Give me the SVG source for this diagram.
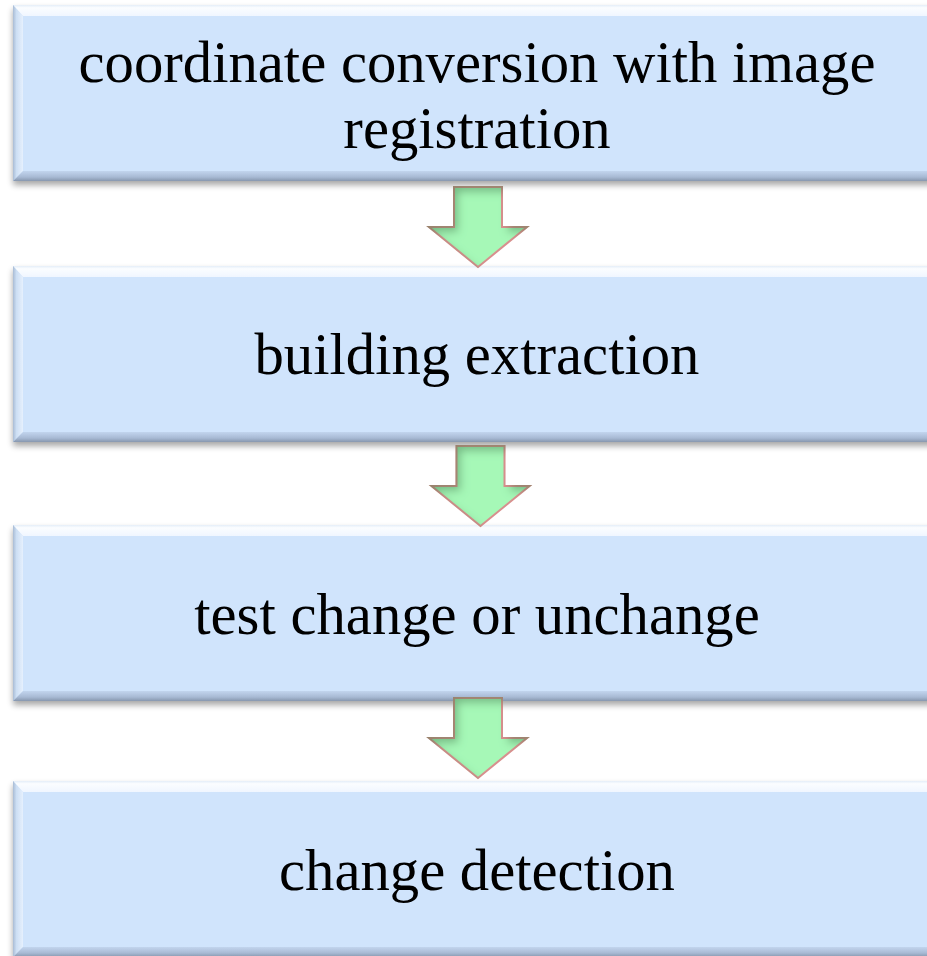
<svg xmlns="http://www.w3.org/2000/svg" width="927" height="956" viewBox="0 0 927 956">
  <defs>
    <style>
      .label { font-family: "Liberation Serif", "Times New Roman", serif; font-size: 58.7px; fill: #000; text-anchor: middle; }
      .face { fill: #d0e4fc; }
      .btop { fill: url(#gTop); }
      .bleft { fill: url(#gLeft); }
      .bbot { fill: url(#gBot); }
      .bright { fill: url(#gRight); }
      .arrow { fill: #a6f8b7; stroke: #d9908f; stroke-width: 2; stroke-linejoin: miter; }
    </style>
    <linearGradient id="gTop" x1="0" y1="0" x2="0" y2="1">
      <stop offset="0" stop-color="#e4eef8"/>
      <stop offset="0.25" stop-color="#fbfdff"/>
      <stop offset="1" stop-color="#f0f6ff"/>
    </linearGradient>
    <linearGradient id="gLeft" x1="0" y1="0" x2="1" y2="0">
      <stop offset="0" stop-color="#a9bcd5"/>
      <stop offset="0.35" stop-color="#cddff4"/>
      <stop offset="1" stop-color="#e6f0fd"/>
    </linearGradient>
    <linearGradient id="gBot" x1="0" y1="0" x2="0" y2="1">
      <stop offset="0" stop-color="#c2d5ee"/>
      <stop offset="0.6" stop-color="#a8bad4"/>
      <stop offset="1" stop-color="#8797ae"/>
    </linearGradient>
    <linearGradient id="gRight" x1="0" y1="0" x2="1" y2="0">
      <stop offset="0" stop-color="#bfd2ea"/>
      <stop offset="1" stop-color="#a0b3cc"/>
    </linearGradient>
    <filter id="shadow" x="-5%" y="-10%" width="110%" height="130%">
      <feGaussianBlur in="SourceAlpha" stdDeviation="3"/>
      <feOffset dx="0" dy="4" result="b"/>
      <feComponentTransfer in="b" result="s"><feFuncA type="linear" slope="0.35"/></feComponentTransfer>
      <feMerge><feMergeNode in="s"/><feMergeNode in="SourceGraphic"/></feMerge>
    </filter>
    <filter id="inner" x="-20%" y="-20%" width="140%" height="140%" filterUnits="objectBoundingBox">
      <feFlood flood-color="#3f7a4c" flood-opacity="0.6" result="col"/>
      <feComposite in="col" in2="SourceAlpha" operator="out" result="outside"/>
      <feGaussianBlur in="outside" stdDeviation="4"/>
      <feOffset dx="5" dy="6" result="off"/>
      <feComposite in="off" in2="SourceAlpha" operator="in" result="ish"/>
      <feMerge><feMergeNode in="SourceGraphic"/><feMergeNode in="ish"/></feMerge>
    </filter>
    <g id="box">
      <rect class="face" x="0" y="0" width="927" height="176"/>
      <polygon class="btop" points="0,0 927,0 917,11 10,11"/>
      <polygon class="bleft" points="0,0 10,11 10,166 0,176"/>
      <polygon class="bbot" points="0,176 10,166 917,166 927,176"/>
      <polygon class="bright" points="927,0 927,176 917,166 917,11"/>
    </g>
  </defs>

  <g id="node1">
    <use href="#box" x="13" y="5" filter="url(#shadow)"/>
    <text class="label" x="477" y="82">coordinate conversion with image</text>
    <text class="label" x="477" y="148">registration</text>
  </g>
  <g id="node2">
    <use href="#box" x="13" y="266" filter="url(#shadow)"/>
    <text class="label" x="477" y="374">building extraction</text>
  </g>
  <g id="node3">
    <use href="#box" x="13" y="525" filter="url(#shadow)"/>
    <text class="label" x="477" y="634">test change or unchange</text>
  </g>
  <g id="node4">
    <use href="#box" x="13" y="781" filter="url(#shadow)"/>
    <text class="label" x="477" y="890">change detection</text>
  </g>

  <g id="connectors">
    <polygon class="arrow" filter="url(#inner)" points="454,187 502,187 502,227 527,227 478,267 429,227 454,227"/>
    <polygon class="arrow" filter="url(#inner)" points="456.5,446 504.5,446 504.5,486 529.5,486 480.5,526 431.5,486 456.5,486"/>
    <polygon class="arrow" filter="url(#inner)" points="454,698 502,698 502,738 527,738 478,778 429,738 454,738"/>
  </g>
</svg>
